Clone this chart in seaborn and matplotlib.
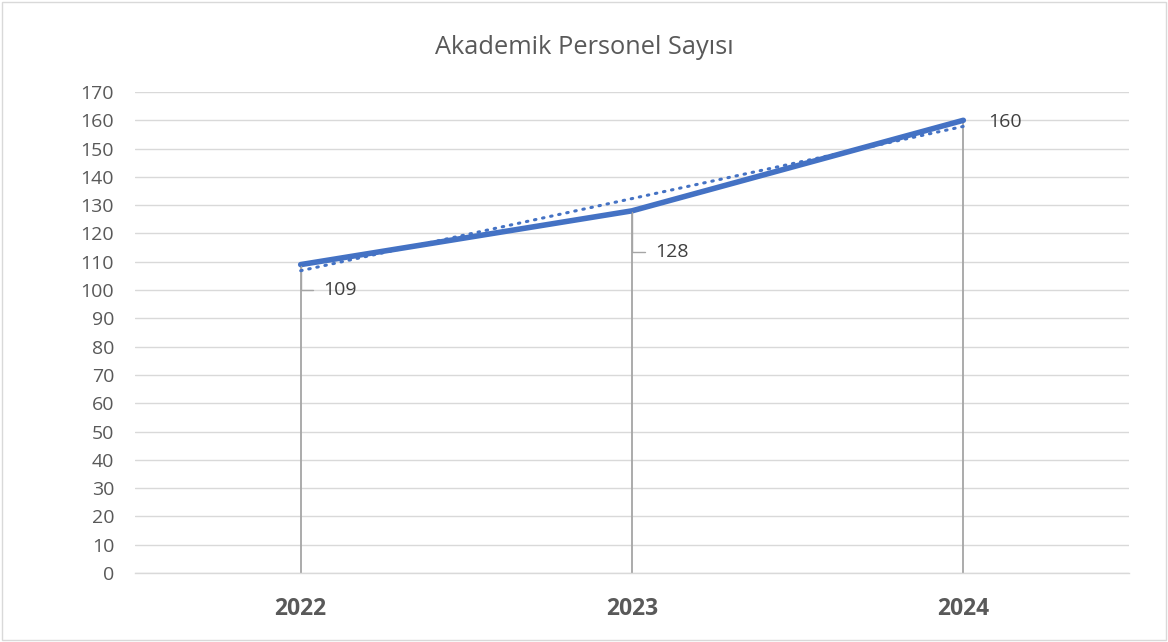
import numpy as np
import pandas as pd
import matplotlib
matplotlib.use("Agg")
import matplotlib.pyplot as plt
import seaborn as sns

# DATA
years = ["2022", "2023", "2024"]
values = [109, 128, 160]
title = "Akademik Personel Sayısı"

df = pd.DataFrame({"pos": np.arange(len(years)), "value": values, "year": years})

sns.set_style("white")
plt.rcParams["font.family"] = ["Open Sans", "DejaVu Sans"]

blue = "#4472C4"
grey_txt = "#595959"

fig = plt.figure(figsize=(11.68, 6.42), dpi=100)
ax = fig.add_axes([0.1156, 0.1075, 0.851, 0.7492])

# gridlines
ax.set_ylim(0, 170)
ax.set_yticks(np.arange(0, 171, 10))
ax.yaxis.grid(True, color="#D9D9D9", linewidth=1)
ax.set_axisbelow(True)

# drop lines
for p, v in zip(df["pos"], df["value"]):
    ax.plot([p, p], [0, v], color="#A5A5A5", linewidth=1.3, zorder=1)

# main line
sns.lineplot(data=df, x="pos", y="value", ax=ax, color=blue, linewidth=4,
             solid_capstyle="round", zorder=3)

# linear trend line
sns.regplot(data=df, x="pos", y="value", ax=ax, scatter=False, ci=None,
            line_kws={"color": blue, "linewidth": 2.2, "linestyle": (0, (0.5, 2.2)),
                      "dash_capstyle": "round", "zorder": 4})

# data labels
offsets = [(16.5, -18.5), (17, -30), (18, -1.5)]
for i, (p, v, off) in enumerate(zip(df["pos"], df["value"], offsets)):
    if i < 2:
        ax.annotate(str(v), xy=(p, v), xytext=off, textcoords="offset points",
                    fontsize=14, color="#404040", va="center", ha="left",
                    arrowprops=dict(arrowstyle="-", color="#A5A5A5", lw=1,
                                    shrinkA=5, shrinkB=1,
                                    connectionstyle="angle,angleA=0,angleB=90,rad=0"))
    else:
        ax.annotate(str(v), xy=(p, v), xytext=off, textcoords="offset points",
                    fontsize=14, color="#404040", va="center", ha="left")

# axes styling
ax.set_xlim(-0.5, 2.5)
ax.set_xticks(df["pos"])
ax.set_xticklabels(years, fontsize=16.5, fontweight="bold", color=grey_txt)
ax.tick_params(axis="x", length=0, pad=17)
ax.set_xticks([-0.5, 0.5, 1.5, 2.5], minor=True)
ax.tick_params(axis="x", which="minor", length=5, color="#D9D9D9", width=1)
ax.tick_params(axis="y", length=0, labelsize=14, labelcolor=grey_txt, pad=15)
for s in ["top", "right", "left"]:
    ax.spines[s].set_visible(False)
ax.spines["bottom"].set_color("#D9D9D9")
ax.spines["bottom"].set_linewidth(1)
ax.set_xlabel("")
ax.set_ylabel("")

fig.text(0.5, 0.926, title, ha="center", va="center", fontsize=18.3, color=grey_txt)

# chart border
fig.patches.append(plt.Rectangle((0.002, 0.003), 0.996, 0.994, transform=fig.transFigure,
                                 fill=False, edgecolor="#D9D9D9", linewidth=1))

fig.savefig("out.png", dpi=100)
